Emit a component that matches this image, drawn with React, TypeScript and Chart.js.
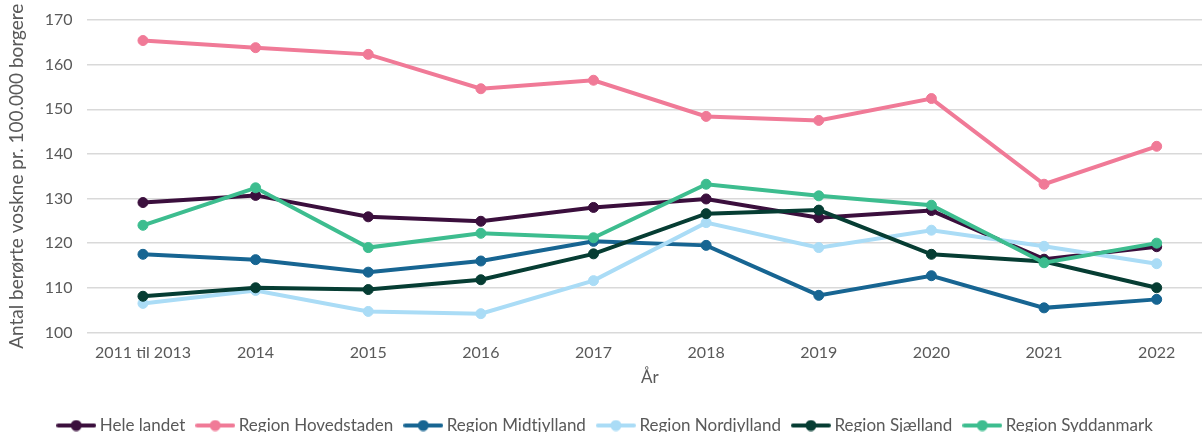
import React, { useEffect, useRef } from "react";
import { Chart, registerables } from "chart.js";

Chart.register(...registerables);

const categories = ["2011 til 2013", "2014", "2015", "2016", "2017", "2018", "2019", "2020", "2021", "2022"];
const yTicks = [100, 110, 120, 130, 140, 150, 160, 170];

const seriesNames = [
  "Hele landet",
  "Region Hovedstaden",
  "Region Midtjylland",
  "Region Nordjylland",
  "Region Sjælland",
  "Region Syddanmark",
];
const seriesColors = ["#3b0f3d", "#f07a97", "#176592", "#aadcf6", "#063d33", "#3dbd8f"];

const heleLandet = [129.1, 130.7, 125.9, 124.9, 128.0, 129.9, 125.7, 127.3, 116.4, 119.2];
const hovedstaden = [165.4, 163.8, 162.3, 154.6, 156.5, 148.4, 147.5, 152.4, 133.2, 141.7];
const midtjylland = [117.5, 116.3, 113.5, 116.0, 120.4, 119.5, 108.3, 112.7, 105.5, 107.4];
const nordjylland = [106.5, 109.4, 104.7, 104.2, 111.6, 124.6, 119.0, 122.9, 119.3, 115.4];
const sjaelland = [108.1, 110.0, 109.6, 111.8, 117.6, 126.6, 127.4, 117.5, 115.9, 110.0];
const syddanmark = [124.0, 132.4, 119.0, 122.2, 121.2, 133.2, 130.6, 128.5, 115.6, 120.0];

const seriesValues = [heleLandet, hovedstaden, midtjylland, nordjylland, sjaelland, syddanmark];

const FONT = "Lato, 'Open Sans', sans-serif";
const TEXT = "#595959";

function legendIcon(color: string): HTMLCanvasElement {
  const c = document.createElement("canvas");
  c.width = 40;
  c.height = 12;
  const g = c.getContext("2d")!;
  g.strokeStyle = color;
  g.lineWidth = 4;
  g.lineCap = "round";
  g.beginPath();
  g.moveTo(2, 6);
  g.lineTo(38, 6);
  g.stroke();
  g.fillStyle = color;
  g.beginPath();
  g.arc(20, 6, 5.5, 0, Math.PI * 2);
  g.fill();
  return c;
}

export default function App() {
  const ref = useRef<HTMLCanvasElement | null>(null);

  useEffect(() => {
    if (!ref.current) return;
    const icons = seriesColors.map(legendIcon);
    const chart = new Chart(ref.current, {
      type: "line",
      data: {
        labels: categories,
        datasets: seriesNames.map((name, i) => ({
          label: name,
          data: seriesValues[i],
          borderColor: seriesColors[i],
          backgroundColor: seriesColors[i],
          pointBackgroundColor: seriesColors[i],
          pointBorderColor: seriesColors[i],
          borderWidth: 4,
          pointRadius: 5,
          pointBorderWidth: 1,
          tension: 0,
          fill: false,
          order: seriesNames.length - i,
        })),
      },
      options: {
        responsive: false,
        animation: false,
        maintainAspectRatio: false,
        layout: { padding: { top: 20, left: 1, right: 23, bottom: 0 } },
        plugins: {
          tooltip: { enabled: false },
          legend: {
            position: "bottom",
            labels: {
              usePointStyle: true,
              pointStyleWidth: 30,
              boxHeight: 12,
              padding: 15,
              color: TEXT,
              font: { family: FONT, size: 17 },
              generateLabels: () =>
                seriesNames.map((name, i) => ({
                  text: name,
                  fillStyle: seriesColors[i],
                  strokeStyle: seriesColors[i],
                  lineWidth: 0,
                  pointStyle: icons[i],
                  datasetIndex: i,
                  hidden: false,
                  fontColor: TEXT,
                })),
            },
          },
        },
        scales: {
          x: {
            offset: true,
            grid: { display: false, drawTicks: false },
            border: { display: false },
            ticks: { color: TEXT, font: { family: FONT, size: 16 }, padding: 10.5, maxRotation: 0 },
            title: {
              display: true,
              text: "År",
              color: TEXT,
              font: { family: FONT, size: 17 },
              padding: { top: -5, bottom: 14 },
            },
          },
          y: {
            min: 100,
            max: 170,
            afterBuildTicks: (scale: any) => {
              scale.ticks = yTicks.map((v) => ({ value: v }));
            },
            grid: { color: "#d9d9d9", lineWidth: 1.5, drawTicks: false },
            border: { display: false },
            ticks: { color: TEXT, font: { family: FONT, size: 16, lineHeight: 0.75 }, padding: 14 },
            title: {
              display: true,
              text: "Antal berørte voskne pr. 100.000 borgere",
              color: TEXT,
              font: { family: FONT, size: 19 },
              padding: { top: 4, bottom: 3 },
            },
          },
        },
      },
    });
    return () => chart.destroy();
  }, []);

  return (
    <div style={{ position: "fixed", left: 0, top: 0, width: 1202, height: 432, overflow: "hidden", background: "#fff" }}>
      <canvas ref={ref} width={1236} height={444} style={{ display: "block", width: 1236, height: 444 }} />
    </div>
  );
}
